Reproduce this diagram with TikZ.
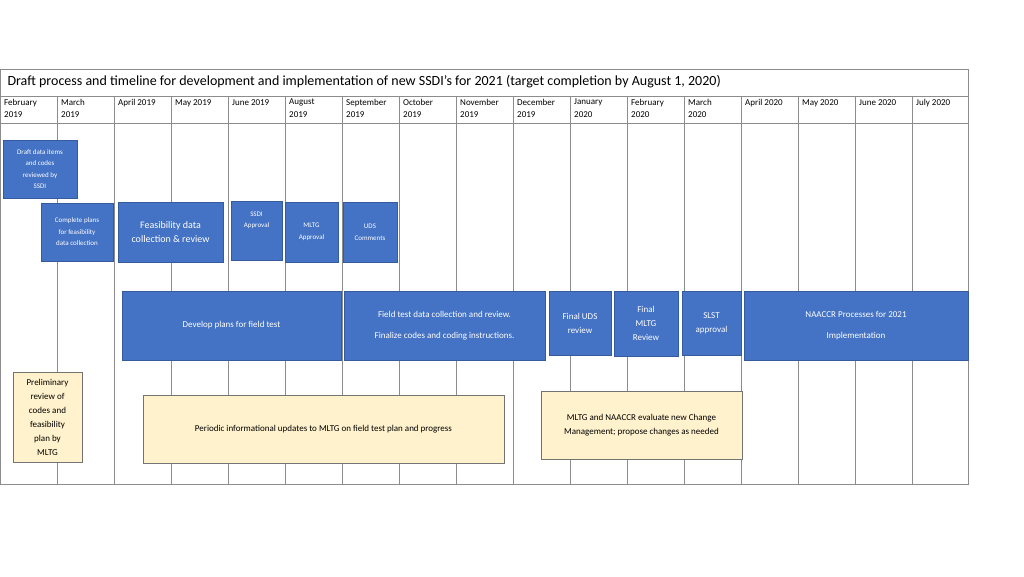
\documentclass[tikz,border=0pt]{standalone}
\usepackage{fontspec}
\setmainfont{Carlito}
\usepackage{tikz}

\definecolor{taskblue}{HTML}{4472C4}
\definecolor{noteyellow}{HTML}{FFF2CC}
\tikzset{
  bluebox/.style={draw=taskblue!80!black, fill=taskblue, text=white, align=center, inner sep=1pt},
  notebox/.style={draw=black!55, fill=noteyellow, text=black, align=center, inner sep=1pt},
  gridline/.style={draw=black!45, line width=0.8pt},
}

\begin{document}
\begin{tikzpicture}[x=1pt,y=-1pt]
    \useasboundingbox (0,0) rectangle (1024,576);

    % table frame
    \draw[gridline] (0,69) rectangle (968,484);
    \draw[gridline] (0,96) -- (968,96);
    \draw[gridline] (0,123) -- (968,123);
    \foreach \i in {1,...,16}
        \draw[gridline] (57*\i,96) -- (57*\i,484);

    \node[anchor=west, font=\fontsize{14}{16}\selectfont] (title) at (4,82) {Draft process and timeline for development and implementation of new SSDI’s for 2021 (target completion by August 1, 2020)};

    % month headers
    \foreach \m [count=\i from 0] in {February\\2019, March\\2019, April 2019, May 2019, June 2019, August\\2019, September\\2019, October\\2019, November\\2019, December\\2019, January\\2020, February\\2020, March\\2020, April 2020, May 2020, June 2020, July 2020}
        \node[anchor=north west, align=left, inner sep=0pt, font=\fontsize{9}{12.5}\selectfont] (m\i) at (57*\i+4,99) {\m};

    % first rows
    \node[bluebox, minimum width=74, minimum height=58, font=\fontsize{7}{11.5}\selectfont] (draft) at (40,169) {Draft data items\\and codes\\reviewed by\\SSDI};
    \node[bluebox, minimum width=72, minimum height=58, font=\fontsize{7}{11.5}\selectfont] (complete) at (77,232) {Complete plans\\for feasibility\\data collection};
    \node[bluebox, minimum width=105, minimum height=60, font=\fontsize{10}{14}\selectfont] (feas) at (170.5,232) {Feasibility data\\collection \& review};
    \node[bluebox, minimum width=51, minimum height=59, font=\fontsize{7}{11.5}\selectfont] (ssdi) at (256.5,230.5) {SSDI\\Approval\\[10pt]};
    \node[bluebox, minimum width=53, minimum height=60, font=\fontsize{7}{11.5}\selectfont] (mltg) at (311.5,232) {MLTG\\Approval};
    \node[bluebox, minimum width=54, minimum height=60, font=\fontsize{7}{11.5}\selectfont] (uds) at (370,232) {UDS\\Comments};

    % middle row
    \node[bluebox, minimum width=219, minimum height=69, font=\fontsize{9}{12}\selectfont] (develop) at (231.5,325.5) {Develop plans for field test};
    \node[bluebox, minimum width=201, minimum height=69, font=\fontsize{9}{21}\selectfont] (field) at (444.5,325.5) {Field test data collection and review.\\Finalize codes and coding instructions.};
    \node[bluebox, minimum width=62, minimum height=64, font=\fontsize{9}{14}\selectfont] (finaluds) at (580,323) {Final UDS\\review};
    \node[bluebox, minimum width=64, minimum height=65, font=\fontsize{9}{14}\selectfont] (finalmltg) at (646,323.5) {Final\\MLTG\\Review};
    \node[bluebox, minimum width=59, minimum height=64, font=\fontsize{9}{14}\selectfont] (slst) at (711.5,323) {SLST\\approval};
    \node[bluebox, minimum width=224, minimum height=69, font=\fontsize{9}{21}\selectfont] (naaccr) at (856,325.5) {NAACCR Processes for 2021\\Implementation};

    % bottom row
    \node[notebox, minimum width=69, minimum height=90, font=\fontsize{9}{14}\selectfont] (prelim) at (47.5,417) {Preliminary\\review of\\codes and\\feasibility\\plan by\\MLTG};
    \node[notebox, minimum width=361, minimum height=68, font=\fontsize{9}{12}\selectfont] (periodic) at (323.5,429) {Periodic informational updates to MLTG on field test plan and progress};
    \node[notebox, minimum width=201, minimum height=68, font=\fontsize{9}{14}\selectfont] (change) at (641.5,425) {MLTG and NAACCR evaluate new Change\\Management; propose changes as needed};
\end{tikzpicture}
\end{document}
